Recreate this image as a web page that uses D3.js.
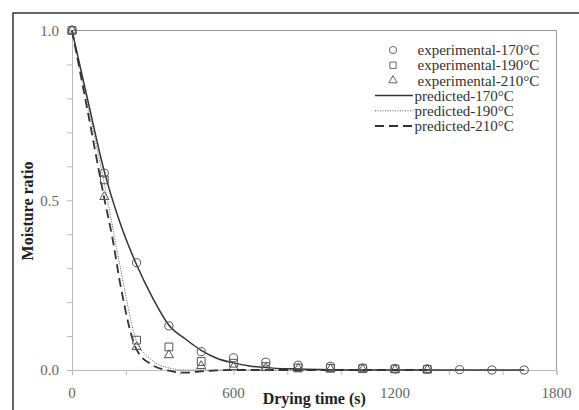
<!DOCTYPE html>
<html><head><meta charset="utf-8">
<script src="https://cdn.jsdelivr.net/npm/d3@7"></script>
<style>body{margin:0;background:#fff;}svg{display:block;}</style>
</head><body>
<svg id="c" width="579" height="410"></svg>
<script>
// ---- data ----
const expTime170 = [0,120,240,360,480,600,720,840,960,1080,1200,1320,1440,1560,1680];
const exp170 = [1.0,0.58,0.316,0.13,0.054,0.036,0.023,0.014,0.011,0.006,0.004,0.003,0.001,0.0,0.0];
const expTime190 = [0,120,240,360,480,600,720,840,960,1080,1200,1320];
const exp190 = [1.0,0.56,0.088,0.068,0.025,0.02,0.01,0.006,0.005,0.004,0.003,0.002];
const expTime210 = [0,120,240,360,480,600,720,840,960,1080,1200,1320];
const exp210 = [1.0,0.51,0.068,0.044,0.012,0.009,0.006,0.004,0.003,0.002,0.001,0.001];
const predTime170 = [0,60,120,180,240,300,360,420,480,540,600,660,720,840,960,1080,1200,1320,1440,1560,1680];
const pred170 = [1.0,0.79,0.585,0.43,0.31,0.212,0.132,0.092,0.058,0.034,0.021,0.012,0.007,0.003,0.001,0.0,0.0,0.0,0.0,0.0,0.0];
const predTime190 = [0,60,120,180,240,300,360,420,480,600,720,840,960,1080,1200,1320];
const pred190 = [1.0,0.775,0.55,0.3,0.085,0.027,0.006,0.0,0.0,0.0,0.0,0.0,0.0,0.0,0.0,0.0];
const predTime210 = [0,60,120,150,180,240,300,360,420,480,540,600,720,840,960,1080,1200,1320];
const pred210 = [1.0,0.755,0.505,0.39,0.25,0.06,0.014,-0.002,-0.008,-0.004,-0.001,0.0,0.0,0.0,0.0,0.0,0.0,0.0];
const xTicks = [0,200,400,600,800,1000,1200,1400,1600,1800];
const xTickLabels = [0,600,1200,1800];
const yTicks = [0,0.1,0.2,0.3,0.4,0.5,0.6,0.7,0.8,0.9,1.0];
const yTickLabels = [0,0.5,1.0];
const legendLabels = ["experimental-170°C","experimental-190°C","experimental-210°C","predicted-170°C","predicted-190°C","predicted-210°C"];

// ---- chart ----
const svg = d3.select("#c");
const x = d3.scaleLinear().domain([0,1800]).range([72,556.5]);
const y = d3.scaleLinear().domain([0,1]).range([370,30.5]);
const serif = "'Liberation Serif','Times New Roman',serif";

// outer frame
svg.append("rect").attr("x",13).attr("y",13).attr("width",600).attr("height",420)
  .attr("fill","none").attr("stroke","#333").attr("stroke-width",1.5);

// plot border (top/right)
svg.append("path").attr("d",`M${x(0)},${y(1)}H${x(1800)}V${y(0)}`)
  .attr("fill","none").attr("stroke","#999").attr("stroke-width",1);

// y axis
const yAxis = svg.append("g").attr("transform",`translate(${x(0)},0)`)
  .call(d3.axisLeft(y).tickValues(yTicks).tickSize(5).tickFormat(""));
yAxis.selectAll("line,path").attr("stroke","#bbb");
svg.selectAll(".ylab").data(yTickLabels).enter().append("text")
  .attr("x",59).attr("y",d=>y(d)).attr("dy","0.35em").attr("text-anchor","end")
  .attr("font-family",serif).attr("font-size",15).attr("fill","#666")
  .text(d=>d3.format(".1f")(d));

// x axis
const xAxis = svg.append("g").attr("transform",`translate(0,${y(0)})`)
  .call(d3.axisBottom(x).tickValues(xTicks).tickSize(5).tickFormat(""));
xAxis.selectAll("line,path").attr("stroke","#bbb");
svg.selectAll(".xlab").data(xTickLabels).enter().append("text")
  .attr("x",d=>x(d)).attr("y",398).attr("text-anchor","middle")
  .attr("font-family",serif).attr("font-size",15).attr("fill","#666")
  .text(d=>d);

// axis titles
svg.append("text").attr("x",(x(0)+x(1800))/2).attr("y",404).attr("text-anchor","middle")
  .attr("font-family",serif).attr("font-size",16).attr("font-weight","bold").attr("fill","#222")
  .text("Drying time (s)");
svg.append("text").attr("transform","translate(33,211) rotate(-90)").attr("text-anchor","middle")
  .attr("font-family",serif).attr("font-size",16).attr("font-weight","bold").attr("fill","#222")
  .text("Moisture ratio");

// lines
const line = d3.line().x(d=>x(d[0])).y(d=>y(d[1])).curve(d3.curveMonotoneX);
const lineStyles = [
  {t:predTime170, v:pred170, dash:null, w:1.5, c:"#333"},
  {t:predTime190, v:pred190, dash:"1,1.5", w:1, c:"#555"},
  {t:predTime210, v:pred210, dash:"9,5", w:1.8, c:"#333"}
];
lineStyles.forEach(s=>{
  svg.append("path").datum(d3.zip(s.t,s.v)).attr("d",line)
    .attr("fill","none").attr("stroke",s.c).attr("stroke-width",s.w)
    .attr("stroke-dasharray",s.dash);
});

// markers
const symC = d3.symbol().type(d3.symbolCircle).size(52);
const symS = d3.symbol().type(d3.symbolSquare).size(60);
const symT = d3.symbol().type(d3.symbolTriangle).size(36);
const markerSets = [
  {t:expTime170, v:exp170, s:symC},
  {t:expTime190, v:exp190, s:symS},
  {t:expTime210, v:exp210, s:symT}
];
markerSets.forEach(m=>{
  svg.append("g").selectAll("path").data(d3.zip(m.t,m.v)).enter().append("path")
    .attr("d",m.s()).attr("transform",d=>`translate(${x(d[0])},${y(d[1])})`)
    .attr("fill","none").attr("stroke","#555").attr("stroke-width",1);
});

// legend
const lg = svg.append("g");
const rowY = i => 50 + i*15.2;
[symC,symS,symT].forEach((s,i)=>{
  lg.append("path").attr("d",d3.symbol().type([d3.symbolCircle,d3.symbolSquare,d3.symbolTriangle][i]).size(i==2?30:40)())
    .attr("transform",`translate(393,${rowY(i)})`).attr("fill","none").attr("stroke","#666").attr("stroke-width",1);
});
lineStyles.forEach((s,i)=>{
  lg.append("line").attr("x1",375).attr("x2",413).attr("y1",rowY(i+3)).attr("y2",rowY(i+3))
    .attr("stroke",s.c).attr("stroke-width",s.w).attr("stroke-dasharray",s.dash);
});
legendLabels.forEach((t,i)=>{
  lg.append("text").attr("x",i<3?417.5:414.5).attr("y",rowY(i)).attr("dy","0.35em")
    .attr("font-family",serif).attr("font-size",15).attr("fill","#333").text(t);
});
</script>
</body></html>
